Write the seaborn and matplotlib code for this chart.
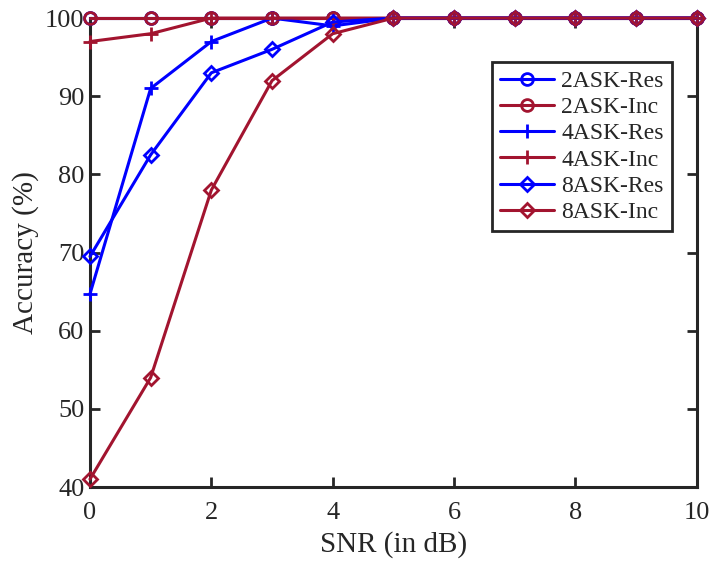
import matplotlib
matplotlib.use("Agg")
import matplotlib.pyplot as plt
import seaborn as sns
import pandas as pd

snr = [0, 1, 2, 3, 4, 5, 6, 7, 8, 9, 10]
ask2_res = [100, 100, 100, 100, 100, 100, 100, 100, 100, 100, 100]
ask2_inc = [100, 100, 100, 100, 100, 100, 100, 100, 100, 100, 100]
ask4_res = [64.7, 91, 97, 100, 99, 100, 100, 100, 100, 100, 100]
ask4_inc = [97, 98, 100, 100, 100, 100, 100, 100, 100, 100, 100]
ask8_res = [69.5, 82.5, 93, 96, 99.5, 100, 100, 100, 100, 100, 100]
ask8_inc = [41, 54, 78, 92, 98, 100, 100, 100, 100, 100, 100]
labels = ["2ASK-Res", "2ASK-Inc", "4ASK-Res", "4ASK-Inc", "8ASK-Res", "8ASK-Inc"]
x_ticks = [0, 2, 4, 6, 8, 10]
y_ticks = [40, 50, 60, 70, 80, 90, 100]

sns.set_style("ticks")
plt.rcParams["font.family"] = ["Liberation Serif", "DejaVu Serif"]
plt.rcParams["mathtext.fontset"] = "stix"

BLUE = "#0000FF"
RED = "#A2142F"
INK = "#262626"

fig = plt.figure(figsize=(7.14, 5.65), dpi=100)
ax = fig.add_axes([0.126, 0.138, 0.850, 0.830])

series = [ask2_res, ask2_inc, ask4_res, ask4_inc, ask8_res, ask8_inc]
colors = [BLUE, RED, BLUE, RED, BLUE, RED]
markers = ["o", "o", "+", "+", "D", "D"]
msizes = [8.5, 8.5, 10, 10, 7, 7]

for vals, lab, c, m, ms in zip(series, labels, colors, markers, msizes):
    df = pd.DataFrame({"SNR": snr, "Acc": vals})
    sns.lineplot(data=df, x="SNR", y="Acc", ax=ax, color=c, lw=2.2,
                 marker=m, markersize=ms, markerfacecolor="none",
                 markeredgecolor=c, markeredgewidth=2, label=lab,
                 clip_on=False, zorder=3)

ax.set_xlim(0, 10)
ax.set_ylim(40, 100)
ax.set_xticks(x_ticks)
ax.set_yticks(y_ticks)
ax.tick_params(direction="in", length=7, width=2, labelsize=19, colors=INK,
               top=True, right=True)
ax.tick_params(axis="x", pad=11)
ax.tick_params(axis="y", pad=4)
for s in ax.spines.values():
    s.set_visible(True)
    s.set_linewidth(2.2)
    s.set_color(INK)
ax.set_xlabel("SNR (in dB)", fontsize=21, color=INK, labelpad=5)
ax.set_ylabel("Accuracy (%)", fontsize=21, color=INK, labelpad=4)

leg = ax.legend(loc="upper right", bbox_to_anchor=(0.959, 0.906), fontsize=17,
                frameon=True, fancybox=False, handlelength=2.3,
                borderpad=0.35, labelspacing=0.2, handletextpad=0.3,
                borderaxespad=0)
leg.get_frame().set_edgecolor(INK)
leg.get_frame().set_linewidth(2)
leg.get_frame().set_alpha(1)

fig.savefig("out.png", dpi=100)
